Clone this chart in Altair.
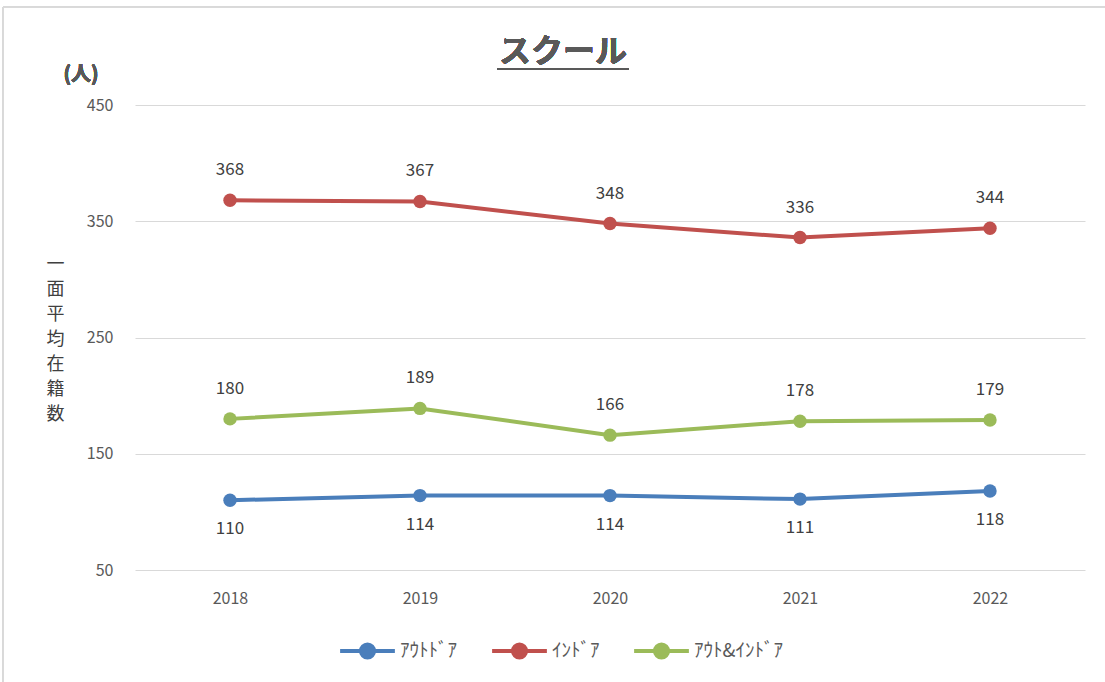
import altair as alt
import pandas as pd

years = ["2018", "2019", "2020", "2021", "2022"]
series_names = ["ｱｳﾄﾄﾞｱ", "ｲﾝﾄﾞｱ", "ｱｳﾄ&ｲﾝﾄﾞｱ"]
outdoor = [110, 114, 114, 111, 118]
indoor = [368, 367, 348, 336, 344]
both = [180, 189, 166, 178, 179]
colors = ["#4A7EBB", "#C0504D", "#9BBB59"]
y_ticks = [50, 150, 250, 350, 450]

rows = []
for name, vals in zip(series_names, [outdoor, indoor, both]):
    for yr, v in zip(years, vals):
        rows.append({"year": yr, "series": name, "value": v})
df = pd.DataFrame(rows)

FONT = "Noto Sans CJK JP"
W, H = 950, 465

color = alt.Color(
    "series:N",
    scale=alt.Scale(domain=series_names, range=colors),
    sort=series_names,
    legend=alt.Legend(
        title=None,
        orient="none",
        direction="horizontal",
        legendX=203,
        legendY=516,
        symbolType="M-1,0 L1,0 M-0.24,0 A0.24,0.24 0 1,1 0.24,0 A0.24,0.24 0 1,1 -0.24,0 Z",
        symbolSize=3000,
        symbolStrokeWidth=4,
        labelFont=FONT,
        labelFontSize=19,
        labelColor="#595959",
        columnPadding=26,
        labelOffset=3,
    ),
)

x = alt.X(
    "year:N",
    sort=years,
    title=None,
    scale=alt.Scale(paddingInner=0, paddingOuter=0),
    axis=alt.Axis(
        labelAngle=0,
        ticks=False,
        domain=False,
        grid=False,
        labelFont=FONT,
        labelFontSize=16,
        labelColor="#595959",
        labelPadding=20,
    ),
)
y = alt.Y(
    "value:Q",
    scale=alt.Scale(domain=[50, 450], nice=False, zero=False),
    axis=alt.Axis(
        values=y_ticks,
        ticks=False,
        domain=False,
        gridColor="#D9D9D9",
        gridWidth=1,
        labelFont=FONT,
        labelFontSize=16,
        labelColor="#595959",
        labelPadding=22,
        title=list("一面平均在籍数"),
        titleAngle=0,
        titleFont=FONT,
        titleFontSize=18,
        titleFontWeight="normal",
        titleColor="#404040",
        titleLineHeight=25,
        titleX=-80,
        titleY=150,
        titleAlign="center",
        titleBaseline="top",
    ),
)

base = alt.Chart(df)
lines = base.mark_line(strokeWidth=4).encode(x=x, y=y, color=color)
points = base.mark_circle(size=180, opacity=1).encode(
    x=x, y=y, color=alt.Color("series:N", scale=alt.Scale(domain=series_names, range=colors), legend=None)
)

def labels(name, dy):
    return (
        base.transform_filter(alt.datum.series == name)
        .mark_text(font=FONT, fontSize=17, color="#404040", dy=dy)
        .encode(x=x, y=y, text="value:Q")
    )

lab_out = labels(series_names[0], 29)
lab_in = labels(series_names[1], -30)
lab_both = labels(series_names[2], -30)

title = base.mark_text(
    font=FONT, fontSize=32, fontWeight="bold", color="#595959", align="center", baseline="alphabetic"
).encode(x=alt.value(428), y=alt.value(-43), text=alt.value("スクール"))
underline = base.mark_rule(color="#595959", strokeWidth=2).encode(
    x=alt.value(362), x2=alt.value(494), y=alt.value(-36)
)
unit = base.mark_text(
    font=FONT, fontSize=20, fontWeight="bold", color="#595959", align="center", baseline="middle"
).encode(x=alt.value(-54), y=alt.value(-30), text=alt.value("(人)"))
frame_top = base.mark_rule(color="#D9D9D9", strokeWidth=1, clip=False).encode(
    x=alt.value(-132), x2=alt.value(975), y=alt.value(-98)
)
frame_left = base.mark_rule(color="#D9D9D9", strokeWidth=1, clip=False).encode(
    x=alt.value(-132), y=alt.value(-98), y2=alt.value(580)
)

chart = (
    alt.layer(frame_top, frame_left, lines, points, lab_out, lab_in, lab_both, title, underline, unit)
    .properties(
        width=W,
        height=H,
        autosize=alt.AutoSizeParams(type="none"),
        padding={"left": 135, "top": 105, "right": 20, "bottom": 112},
        view=alt.ViewBackground(stroke="transparent", strokeOpacity=0, strokeWidth=0),
    )
    .configure_view(stroke="transparent", strokeOpacity=0, strokeWidth=0)
    .configure_axisX(grid=False)
    .configure(background="white")
)

chart.save("out.html", embed_options={"renderer": "svg", "actions": False})
